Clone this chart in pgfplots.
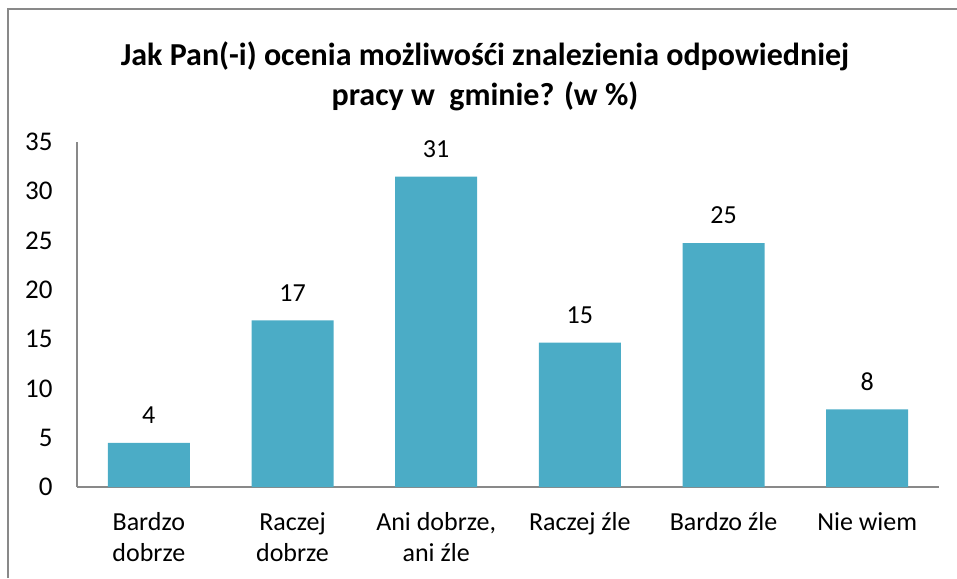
\documentclass[border=0pt]{standalone}
\usepackage{fontspec}
\setmainfont{Carlito}
\usepackage{pgfplots}
\pgfplotsset{compat=1.18}
\definecolor{barc}{HTML}{4BACC6}
\definecolor{axc}{HTML}{898989}
\begin{document}
\begin{tikzpicture}[x=1pt,y=1pt]
\useasboundingbox (0,0) rectangle (957,578);
\draw[axc, line width=1.2pt] (8,0) -- (8,569) -- (957,569);
\node[font=\fontsize{32}{40}\selectfont\bfseries, align=center] at (485,502)
  {Jak Pan(-i) ocenia możliwośći znalezienia odpowiedniej\\pracy w\ \ gminie? (w \%)};
\begin{axis}[
  at={(77pt,91pt)}, anchor=south west,
  scale only axis, width=862pt, height=345pt,
  xmin=-0.5, xmax=5.5, ymin=0, ymax=35,
  ybar, bar width=82pt,
  axis x line*=bottom, axis y line*=left,
  axis line style={-, axc, line width=1.2pt},
  major tick length=0pt,
  xtick=data,
  ytick={0,5,...,35},
  xticklabels={{Bardzo\\dobrze},{Raczej\\dobrze},{Ani dobrze,\\ani źle},{Raczej źle\\\mbox{}},{Bardzo źle\\\mbox{}},{Nie wiem\\\mbox{}}},
  xticklabel style={align=center, anchor=base, font=\fontsize{26}{31}\selectfont, yshift=-74pt},
  yticklabel style={font=\fontsize{27}{30}\selectfont, xshift=-21pt},
  /pgf/number format/assume math mode=true,
  nodes near coords={\pgfmathprintnumber[fixed,precision=0,assume math mode=true]{\pgfplotspointmeta}},
  nodes near coords style={font=\fontsize{26}{30}\selectfont, anchor=south, yshift=15.5pt},
  point meta=y,
]
\addplot[fill=barc, draw=none] coordinates {(0,4.47) (1,16.9) (2,31.48) (3,14.65) (4,24.75) (5,7.87)};
\end{axis}
\end{tikzpicture}
\end{document}
